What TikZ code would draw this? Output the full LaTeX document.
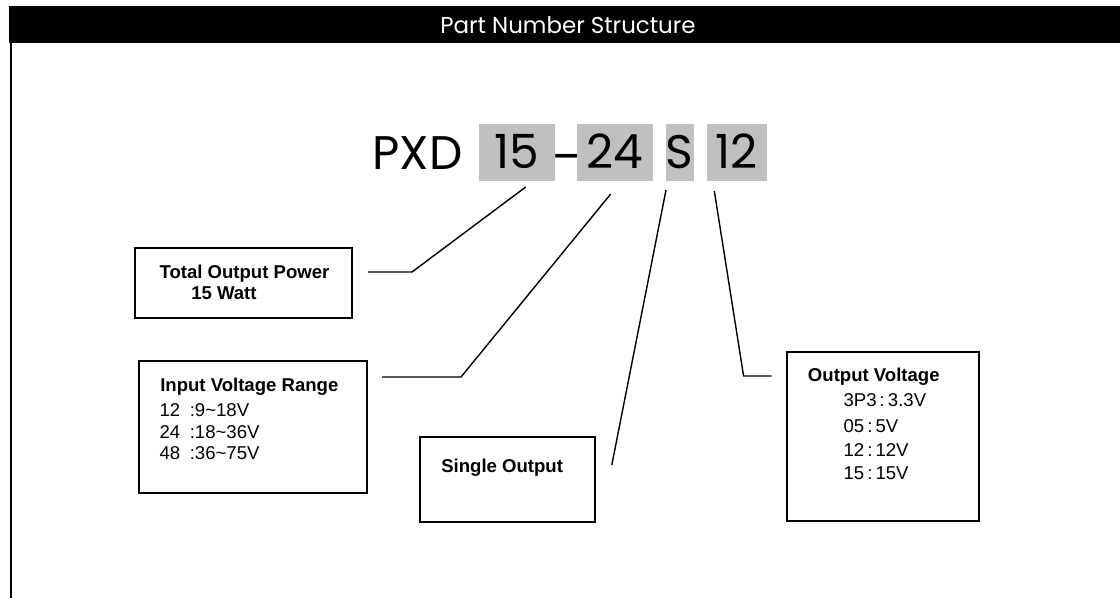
\documentclass[tikz,border=0pt]{standalone}
\usepackage{fontspec}
\setmainfont{Liberation Sans}
\newfontfamily\pnfont{Poppins}
\definecolor{segGray}{RGB}{192,192,192}
\begin{document}
\begin{tikzpicture}[x=0.025cm,y=-0.025cm,
        pn/.style={inner sep=0pt,text height=23.5pt,text depth=0pt,font=\pnfont\fontsize{33.5pt}{34pt}\selectfont},
        seg/.style={pn,fill=segGray,minimum height=1.4175cm},
        infobox/.style={draw,line width=1.3pt,inner sep=0pt},
        txt/.style={anchor=west,inner sep=0pt,text height=9.5pt,text depth=0pt,font=\fontsize{13.2pt}{15pt}\selectfont},
        txtb/.style={txt,font=\bfseries\fontsize{13.2pt}{15pt}\selectfont},
        wire/.style={line width=1pt}]
    \useasboundingbox (0,0) rectangle (1120,598);
    % title bar
    \fill[black] (9,6) rectangle (1120,43);
    \node[text=white,inner sep=0pt,font=\pnfont\fontsize{16.3pt}{17pt}\selectfont] (title) at (568,25) {Part Number Structure};
    \draw[line width=1.4pt] (11,43) -- (11,598);
    % part number
    \node[pn] (pxd) at (417.5,152.5) {PXD};
    \node[seg,minimum width=1.9cm] (pw) at (517,152.3) {15};
    \node[pn] (dash) at (566.5,152.5) {\raisebox{-3pt}{\scalebox{0.9}[1]{–}}};
    \node[seg,minimum width=1.9cm] (vin) at (614.7,152.3) {24};
    \node[seg,minimum width=0.625cm] (nout) at (679.8,152.3) {S};
    \node[seg,minimum width=1.515cm] (vout) at (737,152.3) {12};
    % boxes
    \node[infobox,minimum width=5.4325cm,minimum height=1.735cm] (power) at (243.7,283) {};
    \node[infobox,minimum width=5.6925cm,minimum height=3.3075cm] (input) at (252.8,427.2) {};
    \node[infobox,minimum width=4.355cm,minimum height=2.125cm] (single) at (507.5,479.2) {};
    \node[infobox,minimum width=4.8075cm,minimum height=4.2175cm] (output) at (882.8,436.7) {};
    % box texts
    \node[txtb] (powerT) at (159.3,271.7) {Total Output Power};
    \node[txtb] (powerW) at (191,292.7) {15 Watt};
    \node[txtb] (inputT) at (160,385) {Input Voltage Range};
    \node[txt] (in12) at (159.3,410) {\makebox[21.5pt][l]{12}:9\textasciitilde18V};
    \node[txt] (in24) at (159.3,431.7) {\makebox[21.5pt][l]{24}:18\textasciitilde36V};
    \node[txt] (in48) at (159.3,453.3) {\makebox[21.5pt][l]{48}:36\textasciitilde75V};
    \node[txtb] (singleT) at (441,466) {Single Output};
    \node[txtb] (outputT) at (807.7,375) {Output Voltage};
    \node[txt] (out3) at (843.3,400) {3P3\,:\,3.3V};
    \node[txt] (out5) at (843.3,426) {05\,:\,5V};
    \node[txt] (out12) at (843.3,450) {12\,:\,12V};
    \node[txt] (out15) at (843.3,473.3) {15\,:\,15V};
    % define point
    \coordinate (a1) at (525.7,187);
    \coordinate (a2) at (412,272);
    \coordinate (a3) at (368,272);
    \coordinate (b1) at (610.7,194);
    \coordinate (b2) at (461,377);
    \coordinate (b3) at (382,377);
    \coordinate (c1) at (666,190);
    \coordinate (c2) at (611.8,465);
    \coordinate (d1) at (714.3,191);
    \coordinate (d2) at (743.6,376);
    \coordinate (d3) at (771.7,376);
    % leader lines
    \draw[wire] (a1) -- (a2) -- (a3);
    \draw[wire] (b1) -- (b2) -- (b3);
    \draw[wire] (c1) -- (c2);
    \draw[wire] (d1) -- (d2) -- (d3);
\end{tikzpicture}
\end{document}
